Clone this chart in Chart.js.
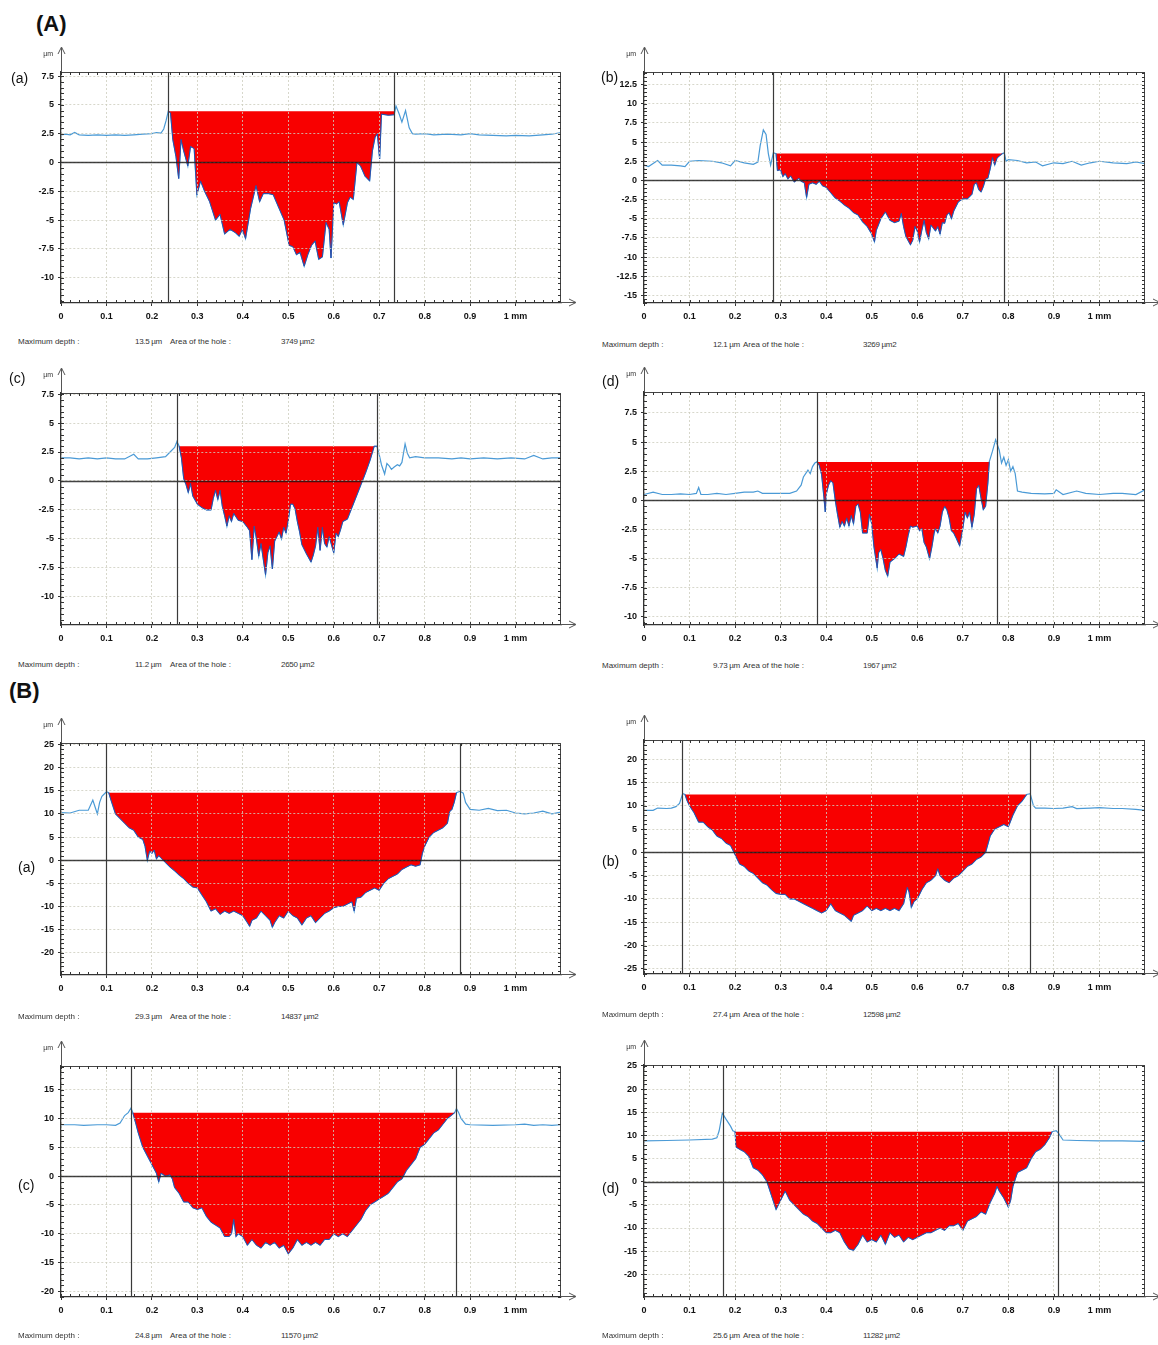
<!DOCTYPE html>
<html>
<head>
<meta charset="utf-8">
<script src="https://cdn.jsdelivr.net/npm/chart.js@4.4.1/dist/chart.umd.min.js"></script>
<style>
  html, body { margin: 0; padding: 0; background: #fff; }
  body { position: relative; width: 1158px; height: 1345px; overflow: hidden;
         font-family: "Liberation Sans", Arial, sans-serif; color: #111; }
  .group { position: absolute; font-weight: bold; font-size: 22px; line-height: 1; }
  .tag { position: absolute; font-size: 14px; line-height: 1; transform: translateY(-50%); }
  .foot { position: absolute; font-size: 8px; line-height: 1; color: #333; transform: translateY(-50%); white-space: nowrap; }
  .foot.val { letter-spacing: -0.3px; }
  canvas { position: absolute; }
</style>
</head>
<body>
<div class="group" style="left:36px;top:13px">(A)</div>
<div class="group" style="left:9px;top:680px">(B)</div>
<script>
// ---- profile data: [position (mm), height (µm)] ----
const profileAa = [
  [0,2.4],[0.01,2.45],[0.02,2.4],[0.03,2.6],[0.04,2.4],[0.06,2.35],[0.08,2.4],[0.1,2.35],[0.12,2.4],[0.14,2.35],
  [0.16,2.4],[0.18,2.45],[0.2,2.5],[0.21,2.6],[0.22,2.55],[0.226,2.9],[0.231,3.6],[0.236,4.45],
  [0.241,4.3],[0.246,2.0],[0.253,0.5],[0.259,-1.4],[0.264,2.0],[0.27,1.0],[0.279,-0.3],[0.285,1.4],[0.293,1.2],
  [0.299,-2.8],[0.307,-1.6],[0.316,-2.5],[0.327,-3.4],[0.34,-5.0],[0.35,-4.5],[0.36,-6.2],[0.372,-5.8],[0.384,-6.1],
  [0.392,-6.4],[0.399,-5.8],[0.406,-6.6],[0.417,-4.0],[0.429,-2.0],[0.437,-3.4],[0.445,-2.7],[0.457,-2.7],[0.467,-2.8],
  [0.48,-4.0],[0.491,-5.0],[0.502,-7.2],[0.51,-7.3],[0.518,-8.0],[0.526,-7.8],[0.535,-9.0],[0.543,-8.0],[0.551,-7.2],
  [0.559,-6.8],[0.567,-8.4],[0.575,-8.2],[0.583,-5.2],[0.59,-5.8],[0.594,-8.3],[0.6,-3.5],[0.606,-3.6],[0.612,-3.4],
  [0.621,-5.4],[0.63,-3.5],[0.636,-3.0],[0.643,-3.2],[0.651,0.0],[0.659,-0.3],[0.669,-1.2],[0.679,-1.6],[0.685,1.0],
  [0.691,2.2],[0.696,2.5],[0.701,0.3],[0.705,4.2],[0.72,4.1],[0.733,4.15],
  [0.737,4.9],[0.744,4.2],[0.75,3.5],[0.758,4.5],[0.766,3.0],[0.773,2.5],[0.78,2.45],[0.8,2.5],[0.82,2.4],[0.85,2.45],
  [0.88,2.4],[0.9,2.5],[0.92,2.4],[0.95,2.35],[0.98,2.3],[1.0,2.35],[1.03,2.3],[1.06,2.4],[1.08,2.45],[1.1,2.6]
];
const profileAb = [
  [0,2.0],[0.01,1.8],[0.02,2.2],[0.03,2.6],[0.04,2.0],[0.06,2.0],[0.08,1.9],[0.09,1.8],[0.1,2.5],[0.12,2.6],
  [0.15,2.5],[0.17,2.3],[0.19,1.9],[0.2,2.6],[0.22,2.3],[0.24,2.1],[0.25,2.4],[0.255,4.5],[0.262,6.6],[0.268,6.0],
  [0.273,3.5],[0.278,2.0],[0.284,3.6],
  [0.29,3.5],[0.293,1.3],[0.3,1.4],[0.305,0.5],[0.31,0.9],[0.316,0.2],[0.322,0.6],[0.33,-0.2],[0.34,0.3],[0.345,-0.1],
  [0.352,-0.3],[0.357,-2.2],[0.362,-0.5],[0.37,-0.3],[0.378,-0.5],[0.385,-0.1],[0.392,-0.7],[0.4,-0.9],[0.41,-1.6],
  [0.42,-2.3],[0.43,-2.7],[0.44,-3.2],[0.45,-3.6],[0.46,-4.2],[0.47,-4.5],[0.48,-5.4],[0.49,-6.0],[0.5,-7.0],
  [0.506,-8.0],[0.51,-6.5],[0.52,-5.0],[0.53,-4.1],[0.54,-5.2],[0.55,-5.5],[0.56,-5.3],[0.565,-4.3],[0.57,-6.0],
  [0.575,-7.3],[0.585,-8.4],[0.59,-7.8],[0.595,-6.0],[0.6,-6.6],[0.605,-8.0],[0.61,-6.5],[0.615,-5.2],[0.62,-6.8],
  [0.625,-7.6],[0.63,-5.8],[0.64,-6.6],[0.645,-6.0],[0.65,-7.0],[0.655,-5.5],[0.66,-5.6],[0.665,-4.5],[0.67,-4.2],
  [0.675,-5.0],[0.68,-4.0],[0.69,-2.8],[0.7,-2.4],[0.71,-2.4],[0.72,-1.8],[0.725,-0.5],[0.73,-0.3],[0.735,-1.2],
  [0.74,-1.5],[0.745,-0.8],[0.75,0.2],[0.755,0.3],[0.76,1.5],[0.765,3.0],[0.77,2.0],[0.775,2.9],[0.78,3.2],[0.787,3.5],
  [0.791,3.6],[0.795,2.5],[0.8,2.7],[0.82,2.6],[0.84,2.3],[0.86,2.4],[0.875,1.9],[0.9,2.3],[0.92,2.2],[0.94,2.5],
  [0.96,2.0],[0.98,2.3],[1.0,2.5],[1.03,2.3],[1.06,2.2],[1.08,2.4],[1.1,2.2]
];
const profileAc = [
  [0,2.0],[0.02,2.0],[0.04,1.9],[0.06,2.0],[0.08,1.9],[0.1,2.0],[0.12,1.9],[0.14,1.9],[0.16,2.3],[0.17,1.9],
  [0.19,1.9],[0.21,2.0],[0.23,2.1],[0.24,2.5],[0.25,2.9],[0.255,3.4],
  [0.26,3.0],[0.265,2.0],[0.27,0.2],[0.275,-0.3],[0.28,-1.0],[0.285,-0.2],[0.29,-1.3],[0.3,-2.0],[0.31,-2.3],
  [0.32,-2.5],[0.33,-2.5],[0.335,-1.5],[0.34,-0.8],[0.345,-1.6],[0.35,-0.8],[0.355,-2.2],[0.36,-3.0],[0.365,-3.9],
  [0.37,-3.0],[0.375,-3.5],[0.38,-2.8],[0.39,-3.4],[0.4,-3.5],[0.41,-4.0],[0.415,-4.3],[0.42,-6.8],[0.425,-3.9],
  [0.43,-5.0],[0.435,-6.5],[0.44,-5.4],[0.45,-8.1],[0.455,-6.2],[0.46,-5.6],[0.465,-7.6],[0.47,-5.2],[0.475,-4.8],
  [0.48,-4.4],[0.485,-5.0],[0.49,-4.0],[0.495,-4.5],[0.5,-3.4],[0.505,-2.0],[0.51,-2.0],[0.515,-2.4],[0.52,-3.5],
  [0.525,-4.4],[0.53,-5.5],[0.54,-6.3],[0.55,-7.0],[0.555,-6.4],[0.56,-5.6],[0.565,-4.0],[0.57,-6.0],[0.575,-4.0],
  [0.58,-5.4],[0.585,-5.7],[0.59,-4.8],[0.595,-5.5],[0.6,-6.2],[0.605,-4.5],[0.61,-4.8],[0.615,-4.2],[0.62,-3.5],
  [0.63,-3.3],[0.64,-2.3],[0.65,-1.3],[0.66,-0.3],[0.67,0.7],[0.68,1.8],[0.689,3.0],[0.695,3.0],
  [0.7,2.3],[0.705,1.4],[0.712,0.6],[0.717,1.5],[0.722,1.3],[0.727,1.0],[0.733,1.2],[0.74,1.4],[0.745,1.3],[0.75,1.6],
  [0.757,3.2],[0.762,2.4],[0.767,2.0],[0.78,2.1],[0.8,2.0],[0.83,2.0],[0.86,1.9],[0.88,2.0],[0.9,1.9],[0.93,2.0],
  [0.96,1.9],[0.99,2.0],[1.02,1.9],[1.04,2.2],[1.06,1.9],[1.08,2.0],[1.1,2.0]
];
const profileAd = [
  [0,0.5],[0.02,0.7],[0.04,0.5],[0.06,0.5],[0.08,0.55],[0.1,0.5],[0.115,0.6],[0.12,1.1],[0.125,0.5],[0.14,0.5],
  [0.16,0.6],[0.18,0.5],[0.2,0.6],[0.22,0.7],[0.24,0.7],[0.25,0.8],[0.26,0.6],[0.28,0.6],[0.3,0.6],[0.32,0.6],
  [0.335,0.8],[0.345,1.3],[0.35,2.0],[0.36,2.6],[0.365,2.3],[0.37,2.9],[0.375,3.2],
  [0.38,3.3],[0.385,3.0],[0.39,2.2],[0.395,0.3],[0.398,-1.0],[0.4,0.5],[0.405,1.3],[0.41,1.7],[0.415,1.5],[0.42,0.0],
  [0.425,-1.2],[0.43,-2.3],[0.435,-1.8],[0.44,-2.2],[0.445,-1.5],[0.45,-2.2],[0.455,-1.3],[0.46,-2.0],[0.465,-0.5],
  [0.47,-0.3],[0.475,-1.0],[0.48,-2.8],[0.49,-2.8],[0.495,-1.2],[0.5,-2.0],[0.505,-4.0],[0.512,-5.8],[0.515,-4.5],
  [0.52,-4.2],[0.525,-5.0],[0.53,-6.0],[0.535,-6.5],[0.54,-5.3],[0.55,-5.0],[0.56,-4.6],[0.57,-4.8],[0.575,-4.0],
  [0.58,-3.0],[0.585,-2.2],[0.59,-2.3],[0.6,-2.2],[0.605,-2.6],[0.61,-2.4],[0.615,-3.6],[0.62,-4.0],[0.627,-5.0],
  [0.632,-4.0],[0.637,-2.8],[0.64,-2.4],[0.645,-2.8],[0.65,-2.2],[0.655,-1.0],[0.66,-0.5],[0.665,-0.8],[0.67,-1.5],
  [0.675,-2.6],[0.68,-2.8],[0.685,-3.2],[0.693,-3.9],[0.7,-2.4],[0.705,-1.0],[0.71,-1.5],[0.715,-1.0],[0.72,-2.3],
  [0.725,-1.2],[0.73,1.0],[0.735,1.3],[0.74,0.2],[0.745,-0.8],[0.75,-0.5],[0.755,1.5],[0.758,3.3],
  [0.765,4.2],[0.772,5.2],[0.78,4.3],[0.785,3.2],[0.79,3.7],[0.795,3.0],[0.8,3.5],[0.805,2.5],[0.81,2.9],[0.815,2.3],
  [0.82,0.8],[0.83,0.7],[0.85,0.6],[0.88,0.55],[0.9,0.6],[0.905,0.9],[0.92,0.5],[0.95,0.8],[0.97,0.6],[1.0,0.5],
  [1.03,0.6],[1.05,0.6],[1.08,0.5],[1.1,0.9]
];
const profileBa = [
  [0,10.3],[0.02,10.2],[0.04,10.8],[0.06,10.8],[0.07,13.0],[0.075,11.5],[0.08,10.0],[0.085,12.5],[0.09,13.8],[0.1,14.8],
  [0.105,14.6],[0.11,13.0],[0.115,11.5],[0.12,10.0],[0.13,9.0],[0.14,8.0],[0.15,7.0],[0.16,6.5],[0.17,5.0],[0.18,4.5],
  [0.185,3.0],[0.19,0.0],[0.195,2.0],[0.2,1.5],[0.205,2.2],[0.21,0.3],[0.215,1.0],[0.22,0.5],[0.23,-0.5],[0.24,-1.5],
  [0.25,-2.3],[0.26,-3.2],[0.27,-4.0],[0.28,-5.0],[0.29,-5.8],[0.3,-6.0],[0.31,-7.5],[0.32,-9.0],[0.33,-11.0],
  [0.34,-10.5],[0.35,-11.7],[0.36,-11.0],[0.37,-11.5],[0.38,-11.0],[0.39,-11.5],[0.4,-12.0],[0.41,-13.5],[0.415,-14.3],
  [0.42,-13.0],[0.43,-12.5],[0.44,-11.0],[0.45,-12.0],[0.46,-13.0],[0.465,-14.5],[0.47,-13.5],[0.48,-12.0],[0.49,-12.5],
  [0.5,-11.0],[0.51,-12.0],[0.52,-12.5],[0.53,-14.0],[0.54,-12.5],[0.55,-12.0],[0.56,-13.5],[0.57,-12.5],[0.58,-11.5],
  [0.59,-11.0],[0.6,-10.3],[0.61,-10.0],[0.62,-10.0],[0.63,-9.5],[0.64,-9.0],[0.645,-11.0],[0.65,-8.2],[0.66,-8.0],
  [0.67,-7.0],[0.68,-6.5],[0.69,-6.0],[0.7,-6.5],[0.71,-5.0],[0.72,-4.0],[0.73,-3.5],[0.74,-3.0],[0.75,-2.0],
  [0.76,-1.5],[0.77,-1.0],[0.78,-1.3],[0.79,-1.0],[0.795,1.5],[0.8,3.0],[0.81,5.0],[0.82,6.0],[0.83,6.5],[0.84,7.0],
  [0.85,8.0],[0.855,10.5],[0.86,11.0],[0.865,12.5],[0.87,14.6],
  [0.878,14.9],[0.885,14.5],[0.89,12.5],[0.9,11.0],[0.92,10.8],[0.94,11.2],[0.96,10.7],[0.98,10.8],[1.0,10.2],
  [1.02,10.0],[1.04,10.2],[1.06,10.6],[1.08,10.0],[1.1,10.4]
];
const profileBb = [
  [0,9.0],[0.02,9.0],[0.03,9.5],[0.05,9.4],[0.06,9.5],[0.07,9.8],[0.078,10.5],[0.085,12.6],
  [0.09,12.4],[0.095,11.0],[0.1,10.0],[0.11,8.5],[0.12,6.5],[0.13,6.5],[0.14,5.5],[0.15,4.8],[0.16,3.5],[0.17,3.0],
  [0.18,2.0],[0.19,1.5],[0.2,-0.5],[0.21,-2.5],[0.22,-3.0],[0.23,-4.0],[0.24,-4.5],[0.25,-5.5],[0.26,-6.5],[0.27,-7.0],
  [0.28,-8.0],[0.29,-8.8],[0.3,-9.0],[0.31,-9.0],[0.32,-10.0],[0.33,-10.0],[0.34,-10.5],[0.35,-11.0],[0.36,-11.5],
  [0.37,-12.0],[0.38,-12.5],[0.39,-13.0],[0.4,-12.5],[0.41,-11.0],[0.42,-12.5],[0.43,-13.0],[0.44,-13.5],[0.455,-14.8],
  [0.46,-13.5],[0.47,-13.0],[0.48,-12.5],[0.49,-11.5],[0.5,-12.5],[0.51,-12.0],[0.52,-12.5],[0.53,-12.0],[0.54,-12.5],
  [0.55,-12.0],[0.56,-12.5],[0.57,-11.0],[0.578,-7.5],[0.582,-8.5],[0.587,-11.8],[0.593,-10.5],[0.6,-10.0],[0.61,-8.0],
  [0.62,-6.5],[0.63,-6.0],[0.64,-5.0],[0.645,-3.5],[0.65,-5.0],[0.66,-6.0],[0.67,-6.5],[0.68,-5.5],[0.69,-5.0],
  [0.7,-4.0],[0.71,-3.0],[0.72,-2.5],[0.73,-1.5],[0.74,-1.0],[0.75,0.0],[0.76,3.5],[0.77,5.0],[0.78,5.5],[0.79,6.0],
  [0.8,5.5],[0.81,8.0],[0.82,10.0],[0.83,11.0],[0.84,12.4],
  [0.848,12.6],[0.855,10.0],[0.86,9.5],[0.88,9.5],[0.9,9.4],[0.92,9.5],[0.94,9.8],[0.95,9.4],[0.98,9.5],[1.0,9.6],
  [1.03,9.4],[1.05,9.4],[1.08,9.2],[1.1,9.0]
];
const profileBc = [
  [0,8.9],[0.03,8.9],[0.05,8.8],[0.08,8.9],[0.1,8.9],[0.12,8.8],[0.13,9.2],[0.14,10.5],[0.148,11.0],[0.154,11.8],
  [0.158,11.0],[0.165,9.0],[0.17,7.5],[0.18,5.0],[0.19,3.5],[0.2,2.0],[0.21,0.5],[0.215,-1.0],[0.22,0.5],[0.23,0.0],
  [0.24,0.2],[0.245,-0.5],[0.25,-2.0],[0.26,-3.0],[0.27,-4.5],[0.28,-4.5],[0.29,-5.5],[0.3,-5.8],[0.31,-5.5],
  [0.32,-7.0],[0.33,-8.0],[0.34,-8.5],[0.35,-9.0],[0.36,-10.5],[0.37,-10.5],[0.375,-10.0],[0.38,-7.5],[0.385,-10.5],
  [0.39,-10.0],[0.4,-10.5],[0.41,-12.0],[0.42,-11.0],[0.43,-12.0],[0.44,-12.5],[0.45,-11.5],[0.46,-12.0],[0.47,-11.5],
  [0.48,-12.5],[0.49,-12.0],[0.5,-13.5],[0.51,-12.5],[0.52,-11.0],[0.53,-12.0],[0.54,-11.5],[0.55,-12.0],[0.56,-11.5],
  [0.57,-12.0],[0.58,-11.0],[0.59,-11.0],[0.6,-10.0],[0.61,-10.5],[0.62,-10.0],[0.63,-10.5],[0.64,-9.5],[0.65,-8.5],
  [0.66,-7.5],[0.67,-6.0],[0.68,-5.0],[0.69,-4.5],[0.7,-4.0],[0.71,-3.5],[0.72,-3.0],[0.73,-2.0],[0.74,-1.0],
  [0.75,-0.5],[0.76,1.0],[0.77,2.0],[0.78,3.0],[0.79,5.0],[0.8,5.5],[0.81,6.5],[0.82,7.5],[0.83,8.0],[0.84,9.0],
  [0.85,10.0],[0.866,11.0],
  [0.87,11.7],[0.875,11.0],[0.88,10.0],[0.89,9.0],[0.9,8.9],[0.95,8.8],[1.0,8.9],[1.02,9.0],[1.04,8.8],[1.06,8.9],
  [1.08,8.8],[1.1,8.9]
];
const profileBd = [
  [0,8.8],[0.05,8.9],[0.1,9.0],[0.15,9.2],[0.16,9.5],[0.165,11.0],[0.172,14.8],[0.18,13.5],[0.19,12.0],[0.195,11.0],
  [0.2,10.8],[0.202,7.5],[0.21,7.0],[0.22,6.5],[0.23,5.5],[0.24,3.0],[0.25,2.5],[0.26,1.5],[0.27,0.0],[0.28,-3.0],
  [0.29,-6.0],[0.3,-4.0],[0.31,-2.0],[0.32,-4.0],[0.33,-5.0],[0.34,-6.0],[0.35,-7.0],[0.36,-7.5],[0.37,-8.5],
  [0.38,-9.0],[0.39,-10.0],[0.4,-11.0],[0.41,-11.0],[0.42,-10.5],[0.43,-11.0],[0.44,-13.0],[0.45,-14.5],[0.46,-14.8],
  [0.47,-13.5],[0.48,-11.5],[0.49,-13.0],[0.5,-12.5],[0.51,-13.0],[0.52,-11.5],[0.53,-13.5],[0.54,-11.0],[0.55,-12.0],
  [0.56,-11.5],[0.57,-13.0],[0.58,-12.0],[0.59,-12.5],[0.6,-12.0],[0.61,-11.5],[0.62,-11.0],[0.63,-11.0],[0.64,-10.5],
  [0.65,-10.0],[0.66,-10.5],[0.67,-9.5],[0.68,-9.5],[0.69,-9.0],[0.7,-10.5],[0.71,-8.5],[0.72,-8.0],[0.73,-7.5],
  [0.74,-6.5],[0.75,-7.0],[0.76,-4.5],[0.77,-2.5],[0.775,-1.0],[0.78,-2.0],[0.79,-3.5],[0.8,-5.5],[0.805,-4.0],
  [0.81,-1.0],[0.815,0.5],[0.82,2.0],[0.83,2.5],[0.84,3.0],[0.85,5.0],[0.86,6.5],[0.87,7.0],[0.88,8.0],[0.89,9.5],
  [0.896,10.8],
  [0.905,11.0],[0.91,10.5],[0.92,9.0],[0.95,8.9],[1.0,8.8],[1.05,8.8],[1.1,8.7]
];
const profiles = [profileAa, profileAb, profileAc, profileAd, profileBa, profileBb, profileBc, profileBd];

// reference level of each hole (µm) and the span filled below it (mm)
const holeLevels = [4.45, 3.5, 3.0, 3.3, 14.6, 12.4, 11.0, 10.8];
const holeSpans = [[0.236,0.733],[0.29,0.787],[0.26,0.695],[0.38,0.758],[0.105,0.87],[0.09,0.84],[0.158,0.866],[0.2,0.896]];
// measurement cursor positions (mm)
const cursorPositions = [[0.236,0.733],[0.284,0.791],[0.256,0.695],[0.38,0.774],[0.1,0.878],[0.083,0.848],[0.154,0.869],[0.173,0.91]];

// axis ticks
const xTicks = [0,0.1,0.2,0.3,0.4,0.5,0.6,0.7,0.8,0.9,1];
const yTicksSmall = [-10,-7.5,-5,-2.5,0,2.5,5,7.5];
const yTicksAb = [-15,-12.5,-10,-7.5,-5,-2.5,0,2.5,5,7.5,10,12.5];
const yTicksBa = [-20,-15,-10,-5,0,5,10,15,20,25];
const yTicksBb = [-25,-20,-15,-10,-5,0,5,10,15,20];
const yTicksBc = [-20,-15,-10,-5,0,5,10,15];
const yTicks = [yTicksSmall, yTicksAb, yTicksSmall, yTicksSmall, yTicksBa, yTicksBb, yTicksBc, yTicksBa];

// captions
const panelTags = ['(a)','(b)','(c)','(d)','(a)','(b)','(c)','(d)'];
const maxDepths = ['13.5','12.1','11.2','9.73','29.3','27.4','24.8','25.6'];
const holeAreas = ['3749','3269','2650','1967','14837','12598','11570','11282'];

// ---- page layout of each panel (plot-area box in page pixels, y extent) ----
const frames = [
  {side:'L', left:61,  right:561,  top:72,   bottom:303,  yMin:-12.2,  yMax:7.85,  minorY:0.5, tag:[11,78],   footY:342},
  {side:'R', left:644, right:1145, top:72,   bottom:303,  yMin:-16,    yMax:14.15, minorY:0.5, tag:[601,77],  footY:345},
  {side:'L', left:61,  right:561,  top:393,  bottom:625,  yMin:-12.45, yMax:7.6,   minorY:0.5, tag:[9,378],   footY:665},
  {side:'R', left:644, right:1145, top:392,  bottom:625,  yMin:-10.7,  yMax:9.3,   minorY:0.5, tag:[602,381], footY:666},
  {side:'L', left:61,  right:561,  top:743,  bottom:975,  yMin:-24.85, yMax:25.35, minorY:1,   tag:[18,867],  footY:1017},
  {side:'R', left:644, right:1145, top:740,  bottom:974,  yMin:-26.1,  yMax:24.1,  minorY:1,   tag:[602,861], footY:1015},
  {side:'L', left:61,  right:561,  top:1066, bottom:1297, yMin:-21,    yMax:19.1,  minorY:1,   tag:[18,1185], footY:1336},
  {side:'R', left:644, right:1145, top:1065, bottom:1297, yMin:-24.9,  yMax:25.2,  minorY:1,   tag:[602,1188],footY:1336}
];
const footColumns = { L:[18,135,170,281], R:[602,713,743,863] };

// frame, cursors, zero line, minor ticks and axis arrows
const framePlugin = {
  id: 'frame',
  afterDraw(chart, args, opts) {
    const {ctx, chartArea, scales} = chart;
    const {left, right, top, bottom} = chartArea;
    const xs = scales.x, ys = scales.y;
    const seg = (x1, y1, x2, y2) => { ctx.beginPath(); ctx.moveTo(x1, y1); ctx.lineTo(x2, y2); ctx.stroke(); };
    ctx.save();
    // zero reference line
    ctx.strokeStyle = 'rgba(20,20,20,0.8)';
    ctx.lineWidth = 1.3;
    const zy = Math.round(ys.getPixelForValue(0)) + 0.5;
    seg(left, zy, right, zy);
    // measurement cursors
    ctx.strokeStyle = '#3a3a3a';
    ctx.lineWidth = 1.2;
    opts.cursors.forEach(c => {
      const px = Math.round(xs.getPixelForValue(c)) + 0.5;
      seg(px, top, px, bottom);
    });
    // top / right frame
    ctx.strokeStyle = '#444';
    ctx.lineWidth = 1;
    seg(left, top + 0.5, right, top + 0.5);
    seg(right - 0.5, top, right - 0.5, bottom);
    // minor ticks
    ctx.strokeStyle = '#333';
    for (let k = 0; k <= 55; k++) {
      const px = Math.round(xs.getPixelForValue(k * 0.02)) + 0.5;
      if (px > right) break;
      seg(px, top, px, top + 3);
      seg(px, bottom, px, bottom - 3);
    }
    const m = opts.minorY;
    for (let k = Math.ceil(ys.min / m); k * m <= ys.max; k++) {
      const py = Math.round(ys.getPixelForValue(k * m)) + 0.5;
      seg(left, py, left + 3, py);
      seg(right, py, right - 3, py);
    }
    // axis arrows
    ctx.strokeStyle = '#555';
    seg(left + 0.5, top, left + 0.5, top - 24);
    seg(left - 3, top - 18, left + 0.5, top - 25);
    seg(left + 4, top - 18, left + 0.5, top - 25);
    seg(right, bottom - 0.5, right + 14, bottom - 0.5);
    seg(right + 8, bottom - 4, right + 15, bottom - 0.5);
    seg(right + 8, bottom + 3, right + 15, bottom - 0.5);
    // unit label
    ctx.fillStyle = '#333';
    ctx.font = '7px "Liberation Sans", Arial, sans-serif';
    ctx.textAlign = 'right';
    ctx.textBaseline = 'middle';
    ctx.fillText('µm', left - 8, top - 18);
    ctx.restore();
  }
};

const tickFont = { family: '"Liberation Sans", Arial, sans-serif', size: 9, weight: 'bold' };

function addText(cls, text, x, y) {
  const d = document.createElement('div');
  d.className = cls;
  d.textContent = text;
  d.style.left = x + 'px';
  d.style.top = y + 'px';
  document.body.appendChild(d);
}

function makePanel(i) {
  const f = frames[i];
  const cx = f.side === 'L' ? 0 : 580;
  const cw = f.side === 'L' ? 580 : 578;
  const padTop = 34, axisH = 26;
  const ct = f.top - padTop;
  const ch = f.bottom + axisH - ct;
  const canvas = document.createElement('canvas');
  canvas.width = cw; canvas.height = ch;
  canvas.style.left = cx + 'px'; canvas.style.top = ct + 'px';
  canvas.style.width = cw + 'px'; canvas.style.height = ch + 'px';
  document.body.appendChild(canvas);

  const pts = profiles[i].map(([x, y]) => ({x, y}));
  const [h0, h1] = holeSpans[i];
  const holePts = pts.filter(p => p.x >= h0 && p.x <= h1);

  const gridOpts = { color: 'rgba(205,205,190,0.8)', lineWidth: 1, z: 1, drawTicks: true,
                     tickLength: 3, tickColor: '#333', tickWidth: 1 };
  const borderOpts = { display: true, color: '#333', width: 1.3, dash: [2, 2], z: 1 };

  new Chart(canvas, {
    type: 'line',
    data: {
      datasets: [
        { data: holePts, borderColor: '#2452b0', borderWidth: 1, backgroundColor: '#f80000',
          fill: { value: holeLevels[i] }, pointRadius: 0, tension: 0, order: 1 },
        { data: pts, borderColor: '#4a9ad6', borderWidth: 1.2, fill: false,
          pointRadius: 0, tension: 0, order: 2 }
      ]
    },
    options: {
      responsive: false, animation: false, devicePixelRatio: 1, events: [],
      layout: { padding: { top: padTop, right: cw - (f.right - cx), left: 0, bottom: 0 } },
      plugins: { legend: { display: false }, tooltip: { enabled: false },
                 frame: { cursors: cursorPositions[i], minorY: f.minorY } },
      scales: {
        x: {
          type: 'linear', min: 0, max: 1.1,
          afterBuildTicks: s => { s.ticks = xTicks.map(v => ({ value: v })); },
          afterFit: s => { s.height = axisH; },
          ticks: { font: tickFont, color: '#111', padding: 5, autoSkip: false, maxRotation: 0,
                   callback: v => (v === 1 ? '1 mm' : String(v)) },
          grid: gridOpts, border: borderOpts
        },
        y: {
          type: 'linear', min: f.yMin, max: f.yMax,
          afterBuildTicks: s => { s.ticks = yTicks[i].map(v => ({ value: v })); },
          afterFit: s => { s.width = f.left - cx; },
          ticks: { font: tickFont, color: '#111', padding: 4, autoSkip: false,
                   callback: v => String(v) },
          grid: gridOpts, border: borderOpts
        }
      }
    },
    plugins: [framePlugin]
  });

  addText('tag', panelTags[i], f.tag[0], f.tag[1]);
  const cols = footColumns[f.side];
  addText('foot', 'Maximum depth :', cols[0], f.footY);
  addText('foot val', maxDepths[i] + ' µm', cols[1], f.footY);
  addText('foot', 'Area of the hole :', cols[2], f.footY);
  addText('foot val', holeAreas[i] + ' µm2', cols[3], f.footY);
}

for (let i = 0; i < frames.length; i++) makePanel(i);
</script>
</body>
</html>
